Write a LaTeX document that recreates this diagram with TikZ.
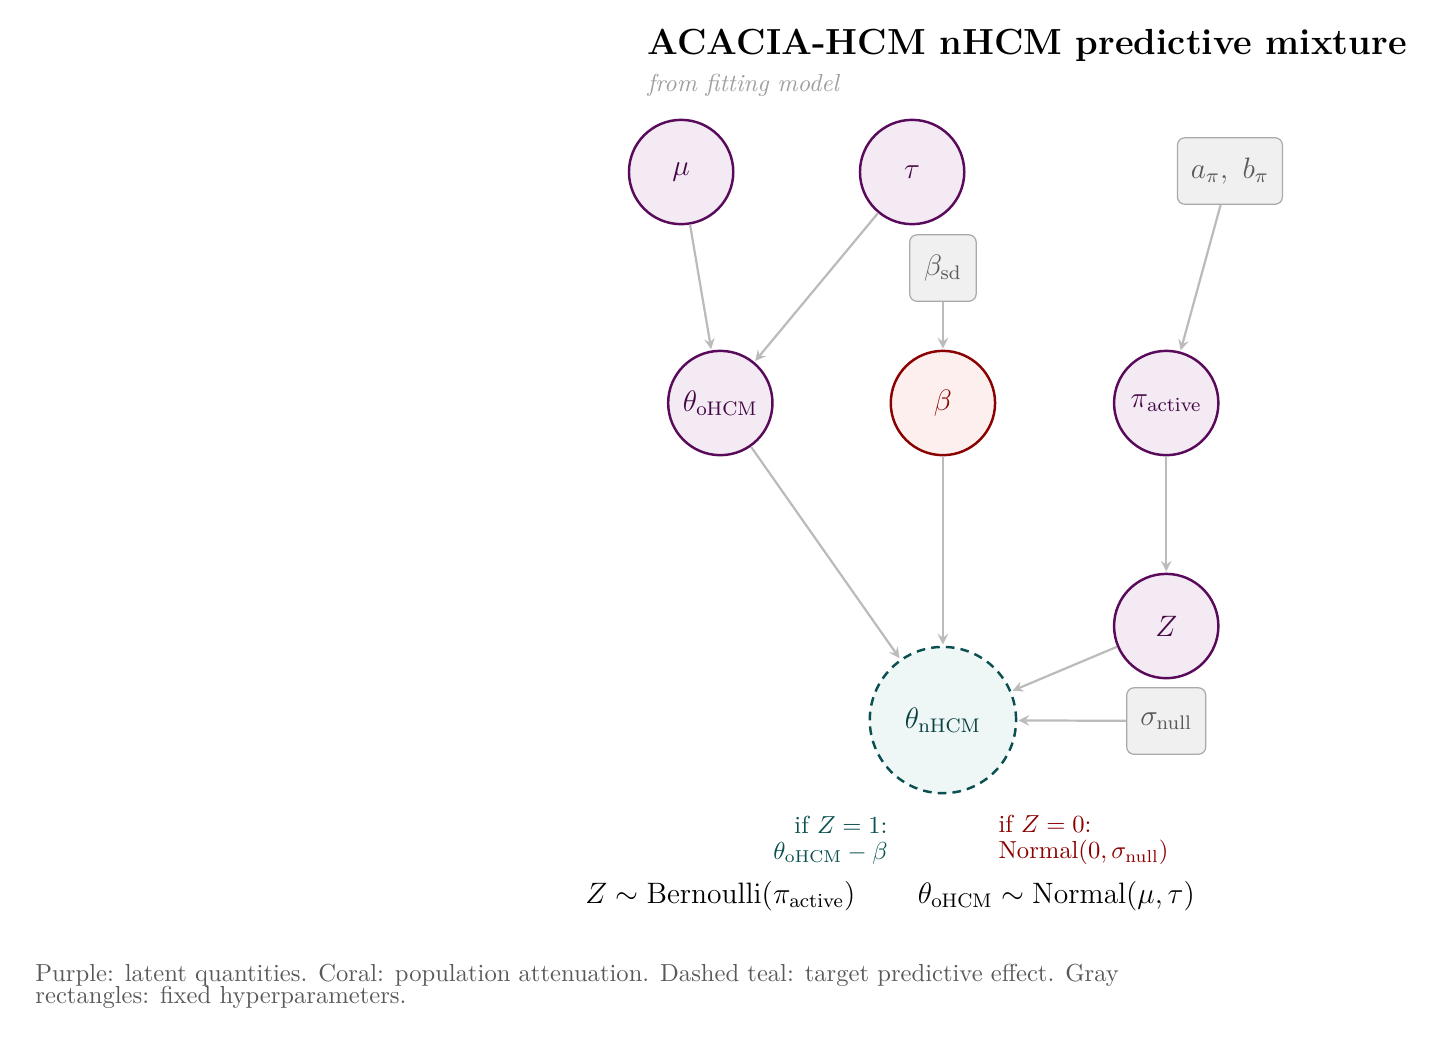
\documentclass[tikz,border=0pt]{standalone}
\usetikzlibrary{arrows}

\definecolor{latentdraw}{HTML}{5A0A5A}
\definecolor{latentfill}{HTML}{F4EAF4}
\definecolor{coraldraw}{HTML}{8B0000}
\definecolor{coralfill}{HTML}{FDEFEE}
\definecolor{tealdraw}{HTML}{0A5050}
\definecolor{tealfill}{HTML}{EEF6F6}
\definecolor{hyperdraw}{HTML}{AAAAAA}
\definecolor{hyperfill}{HTML}{F0F0F0}
\definecolor{edgegray}{HTML}{BBBBBB}

\begin{document}
\begin{tikzpicture}[
    latent/.style = {circle, draw = latentdraw, fill = latentfill, line width = 1pt, minimum size = 1.49cm, inner sep = 0pt, text = latentdraw!75!black, font = \large},
    coral/.style = {latent, draw = coraldraw, fill = coralfill, text = coraldraw},
    target/.style = {latent, draw = tealdraw, fill = tealfill, text = tealdraw!80!black, dash pattern = on 3.5pt off 2.5pt, minimum size = 2.09cm},
    hyper/.style = {rectangle, rounded corners = 3pt, draw = hyperdraw, fill = hyperfill, line width = 0.5pt, minimum size = 0.95cm, inner sep = 5.5pt, text = black!65, font = \large},
    edge/.style = {->, >=stealth, draw = edgegray, line width = 0.9pt, shorten >= 0.5pt},
    note/.style = {inner sep = 0pt}
]
    \useasboundingbox (0,0) rectangle (20.614,-14.886);

    % title
    \node[note, anchor = base west, font = \fontsize{14.75pt}{18pt}\selectfont\bfseries] (title) at (9.243,-0.78) {ACACIA-HCM nHCM predictive mixture};
    \node[note, anchor = base west, font = \itshape, text = black!38] (subtitle) at (9.243,-1.3) {from fitting model};

    % nodes
    \node[latent] (mu) at (9.73,-2.457) {$\mu$};
    \node[latent] (tau) at (13.03,-2.457) {$\tau$};
    \node[hyper, minimum width = 1.49cm] (api) at (17.57,-2.443) {$a_\pi,\ b_\pi$};
    \node[hyper] (betasd) at (13.47,-3.829) {$\beta_{\mathrm{sd}}$};
    \node[latent] (thetaO) at (10.29,-5.757) {$\theta_{\mathrm{oHCM}}$};
    \node[coral] (beta) at (13.47,-5.757) {$\beta$};
    \node[latent] (piact) at (16.66,-5.757) {$\pi_{\mathrm{active}}$};
    \node[latent] (Z) at (16.66,-8.943) {$Z$};
    \node[target] (thetaN) at (13.47,-10.286) {$\theta_{\mathrm{nHCM}}$};
    \node[hyper] (signull) at (16.66,-10.3) {$\sigma_{\mathrm{null}}$};

    % edges
    \draw[edge] (mu) -- (thetaO);
    \draw[edge] (tau) -- (thetaO);
    \draw[edge] (betasd) -- (beta);
    \draw[edge] (api) -- (piact);
    \draw[edge] (thetaO) -- (thetaN);
    \draw[edge] (beta) -- (thetaN);
    \draw[edge] (piact) -- (Z);
    \draw[edge] (Z) -- (thetaN);
    \draw[edge] (signull) -- (thetaN);

    % mixture cases
    \node[note, anchor = east, align = right, text = tealdraw] (caseone) at (12.686,-12.0) {if $Z = 1$:\\[-1.5pt] $\theta_{\mathrm{oHCM}} - \beta$};
    \node[note, anchor = west, align = left, text = coraldraw] (casezero) at (14.257,-12.0) {if $Z = 0$:\\[-1.5pt] $\mathrm{Normal}(0, \sigma_{\mathrm{null}})$};

    % priors
    \node[font = \large] (zprior) at (10.29,-12.8) {$Z \sim \mathrm{Bernoulli}(\pi_{\mathrm{active}})$};
    \node[font = \large] (thetaprior) at (15.09,-12.8) {$\theta_{\mathrm{oHCM}} \sim \mathrm{Normal}(\mu, \tau)$};

    % legend
    \node[note, anchor = north west, align = left, font = \normalsize, text = black!65] (legend) at (0.5,-13.76) {Purple: latent quantities. Coral: population attenuation. Dashed teal: target predictive effect. Gray\\[-3pt] rectangles: fixed hyperparameters.};
\end{tikzpicture}
\end{document}
